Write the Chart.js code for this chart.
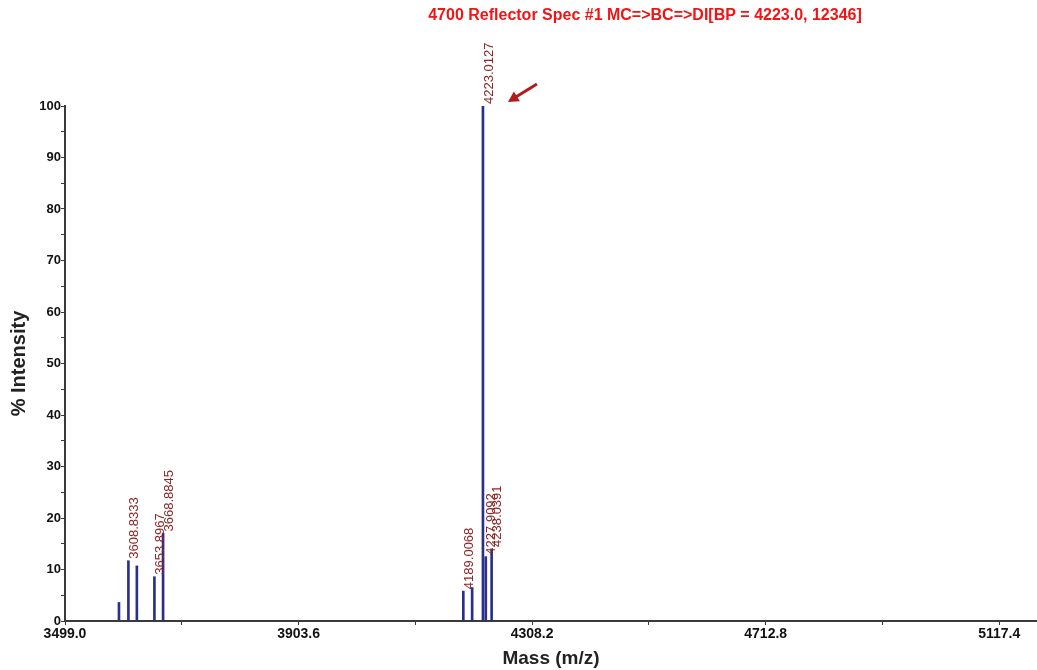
<!DOCTYPE html>
<html>
<head>
<meta charset="utf-8">
<script src="https://cdn.jsdelivr.net/npm/chart.js@4.4.1/dist/chart.umd.min.js"></script>
<style>
  html, body { margin: 0; padding: 0; background: #fff; }
  #wrap { width: 1037px; height: 670px; }
</style>
</head>
<body>
<div id="wrap"><canvas id="spectrum" width="1037" height="670"></canvas></div>
<script>
// peaks (m/z, % intensity, printed label)
const masses = [3592.5, 3608.8333, 3623.5, 3653.8967, 3668.8845, 4189.0068, 4204.3, 4223.0127, 4227.9092, 4238.0391];
const intensities = [3.6, 11.7, 10.7, 8.6, 17, 5.8, 6.5, 100, 12.5, 14];
const peakLabels = ['', '3608.8333', '', '3653.8967', '3668.8845', '4189.0068', '', '4223.0127', '4227.9092', '4238.0391'];

// axis ticks
const massTicks = [3499.0, 3701.3, 3903.6, 4105.9, 4308.2, 4510.5, 4712.8, 4915.1, 5117.4];
const massTickLabels = ['3499.0', '', '3903.6', '', '4308.2', '', '4712.8', '', '5117.4'];
const intensityLabels = [0, 10, 20, 30, 40, 50, 60, 70, 80, 90, 100];

const titleText = '4700 Reflector Spec #1 MC=>BC=>DI[BP = 4223.0, 12346]';

const axisColor = '#3a3a3a';
const stickColor = '#2b2f8c';
const labelColor = '#8a2424';
const fontFamily = 'Arial, "Liberation Sans", sans-serif';

// header text, rotated peak labels and the arrow at the base peak
const overlay = {
    id: 'overlay',
    afterDatasetsDraw(chart) {
        const ctx = chart.ctx;
        const xs = chart.scales.x;
        const ys = chart.scales.y;

        ctx.save();
        ctx.font = 'bold 16px ' + fontFamily;
        ctx.fillStyle = '#f01414';
        ctx.textAlign = 'center';
        ctx.textBaseline = 'middle';
        ctx.fillText(titleText, 645, 16);
        ctx.restore();

        ctx.save();
        ctx.font = '13px ' + fontFamily;
        ctx.fillStyle = labelColor;
        ctx.textAlign = 'left';
        ctx.textBaseline = 'middle';
        masses.forEach((m, i) => {
            if (!peakLabels[i]) return;
            const px = xs.getPixelForValue(m);
            const py = ys.getPixelForValue(intensities[i]);
            ctx.save();
            ctx.translate(px + 6, py - 2);
            ctx.rotate(-Math.PI / 2);
            ctx.fillText(peakLabels[i], 0, 0);
            ctx.restore();
        });
        ctx.restore();

        // arrow pointing at the base peak
        const bx = xs.getPixelForValue(4223.0127);
        const by = ys.getPixelForValue(100);
        const tip = { x: bx + 25, y: by - 4 };
        const tail = { x: bx + 54, y: by - 22 };
        const ang = Math.atan2(tip.y - tail.y, tip.x - tail.x);
        ctx.save();
        ctx.strokeStyle = '#b01c1c';
        ctx.fillStyle = '#b01c1c';
        ctx.lineWidth = 3;
        ctx.beginPath();
        ctx.moveTo(tail.x, tail.y);
        ctx.lineTo(tip.x - 6 * Math.cos(ang), tip.y - 6 * Math.sin(ang));
        ctx.stroke();
        ctx.beginPath();
        ctx.moveTo(tip.x, tip.y);
        ctx.lineTo(tip.x - 12 * Math.cos(ang - 0.5), tip.y - 12 * Math.sin(ang - 0.5));
        ctx.lineTo(tip.x - 12 * Math.cos(ang + 0.5), tip.y - 12 * Math.sin(ang + 0.5));
        ctx.closePath();
        ctx.fill();
        ctx.restore();
    }
};

const ctx = document.getElementById('spectrum').getContext('2d');
new Chart(ctx, {
    type: 'bar',
    data: {
        datasets: [{
            data: masses.map((m, i) => ({ x: m, y: intensities[i] })),
            backgroundColor: stickColor,
            borderWidth: 0,
            barThickness: 2
        }]
    },
    options: {
        responsive: false,
        animation: false,
        devicePixelRatio: 1,
        layout: { padding: { top: 106, left: 0, right: 0, bottom: 0 } },
        plugins: {
            legend: { display: false },
            title: { display: false },
            tooltip: { enabled: false }
        },
        scales: {
            x: {
                type: 'linear',
                min: 3499.0,
                max: 5182.8,
                offset: false,
                afterFit: scale => { scale.height = 49; },
                afterBuildTicks: scale => {
                    scale.ticks = massTicks.map(v => ({ value: v }));
                },
                ticks: {
                    autoSkip: false,
                    maxRotation: 0,
                    padding: 1,
                    color: '#111',
                    font: { family: fontFamily, size: 14, weight: 'bold' },
                    callback: (v, i) => massTickLabels[i]
                },
                grid: { display: true, offset: false, drawOnChartArea: false, drawTicks: true, tickLength: 4, color: axisColor },
                border: { display: true, color: axisColor, width: 2 },
                title: {
                    display: true,
                    text: 'Mass (m/z)',
                    color: '#222',
                    font: { family: fontFamily, size: 19, weight: 'bold' },
                    padding: { top: 0, bottom: 0 }
                }
            },
            y: {
                min: 0,
                max: 100,
                afterFit: scale => { scale.width = 65; },
                ticks: {
                    stepSize: 5,
                    padding: 0,
                    color: '#111',
                    font: { family: fontFamily, size: 13, weight: 'bold' },
                    callback: v => intensityLabels.includes(v) ? String(v) : ''
                },
                grid: { display: true, drawOnChartArea: false, drawTicks: true, tickLength: 4, color: axisColor },
                border: { display: true, color: axisColor, width: 2 },
                title: {
                    display: true,
                    text: '% Intensity',
                    color: '#222',
                    font: { family: fontFamily, size: 20, weight: 'bold' },
                    padding: { top: 7, bottom: 0 }
                }
            }
        }
    },
    plugins: [overlay]
});
</script>
</body>
</html>
